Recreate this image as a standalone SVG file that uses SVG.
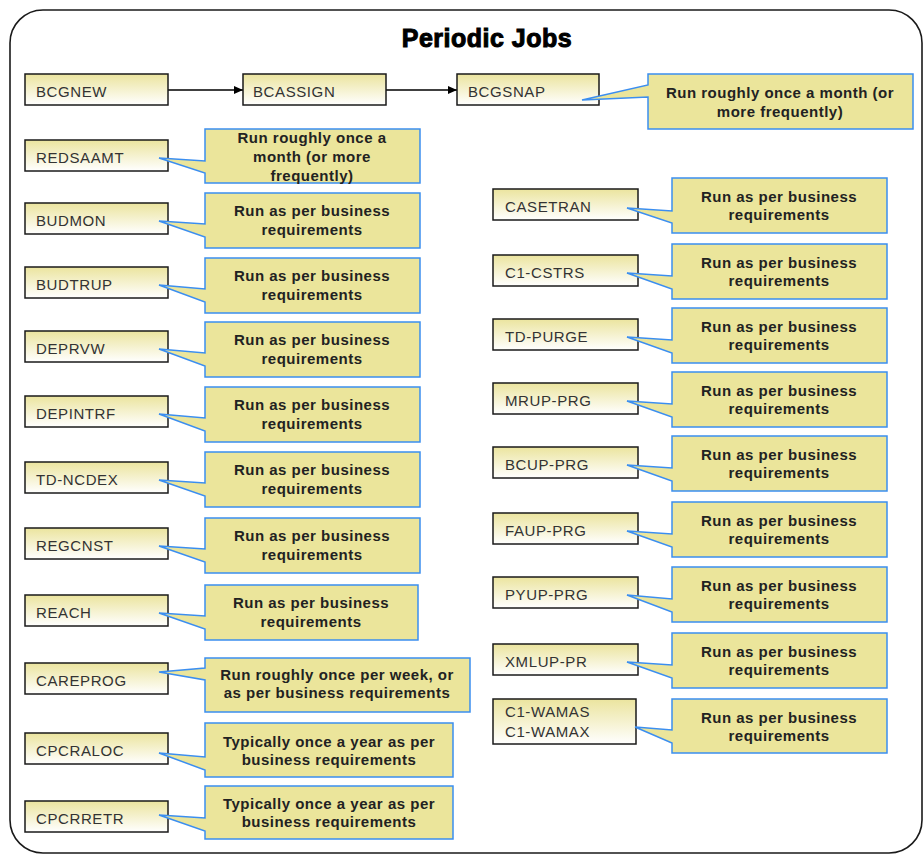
<svg xmlns="http://www.w3.org/2000/svg" width="924" height="855" viewBox="0 0 924 855">
<style>
.frame{fill:#fff;stroke:#1a1a1a;stroke-width:1.6}
.title{font-family:"Liberation Sans",Arial,sans-serif;font-size:25px;font-weight:bold;fill:#000;stroke:#000;stroke-width:1;text-anchor:middle;letter-spacing:0.5px}
.box{fill:url(#bg);stroke:#1a1a1a;stroke-width:1.5}
.lbl{font-family:"Liberation Sans",Arial,sans-serif;font-size:15px;fill:#333;letter-spacing:0.6px}
.co{fill:#ebe59b;stroke:#3b8ef0;stroke-width:1.5;stroke-linejoin:miter}
.ct{font-family:"Liberation Sans",Arial,sans-serif;font-size:15px;font-weight:bold;fill:#222;text-anchor:middle;letter-spacing:0.5px}
.conn{stroke:#000;stroke-width:1.5;fill:none;marker-end:url(#arr)}
</style>
<defs>
<linearGradient id="bg" x1="0" y1="0" x2="0" y2="1">
<stop offset="0" stop-color="#ebe49e"/>
<stop offset="1" stop-color="#ffffff"/>
</linearGradient>
<marker id="arr" markerWidth="9" markerHeight="8" refX="9" refY="4" orient="auto" markerUnits="userSpaceOnUse">
<path d="M0,0 L9,4 L0,8 Z" fill="#000"/>
</marker>
</defs>
<rect class="frame" x="10" y="10" width="912" height="843" rx="33" ry="33"/>
<text class="title" x="487" y="47">Periodic Jobs</text>

<g id="connectors">
<line class="conn" x1="168" y1="90" x2="243" y2="90"/>
<line class="conn" x1="386" y1="90" x2="457" y2="90"/>
</g>

<g id="BCGNEW"><rect class="box" x="25" y="74" width="143" height="31"/><text class="lbl" x="36" y="97">BCGNEW</text></g>
<g id="BCASSIGN"><rect class="box" x="243" y="74" width="143" height="31"/><text class="lbl" x="253" y="97">BCASSIGN</text></g>
<g id="BCGSNAP"><rect class="box" x="457" y="74" width="142" height="31"/><text class="lbl" x="468" y="97">BCGSNAP</text></g>
<g id="note-BCGSNAP"><path class="co" d="M648,74 H913 V129 H648 V97 L582,100 L648,85 Z"/><text class="ct" x="780" y="98">Run roughly once a month (or</text><text class="ct" x="780" y="117">more frequently)</text></g>

<g id="REDSAAMT"><rect class="box" x="25" y="140" width="143" height="31"/><text class="lbl" x="36" y="163">REDSAAMT</text></g>
<g id="note-REDSAAMT"><path class="co" d="M205,129 H420 V183 H205 V173 L159,158 L205,161 Z"/><text class="ct" x="312" y="143">Run roughly once a</text><text class="ct" x="312" y="162">month (or more</text><text class="ct" x="312" y="181">frequently)</text></g>

<g id="BUDMON"><rect class="box" x="25" y="203" width="143" height="31"/><text class="lbl" x="36" y="226">BUDMON</text></g>
<g id="note-BUDMON"><path class="co" d="M205,193 H420 V248 H205 V237 L159,221 L205,224 Z"/><text class="ct" x="312" y="216">Run as per business</text><text class="ct" x="312" y="235">requirements</text></g>

<g id="BUDTRUP"><rect class="box" x="25" y="267" width="143" height="31"/><text class="lbl" x="36" y="290">BUDTRUP</text></g>
<g id="note-BUDTRUP"><path class="co" d="M205,258 H420 V313 H205 V302 L159,285 L205,289 Z"/><text class="ct" x="312" y="281">Run as per business</text><text class="ct" x="312" y="300">requirements</text></g>

<g id="DEPRVW"><rect class="box" x="25" y="331" width="143" height="31"/><text class="lbl" x="36" y="354">DEPRVW</text></g>
<g id="note-DEPRVW"><path class="co" d="M205,322 H420 V377 H205 V366 L159,349 L205,353 Z"/><text class="ct" x="312" y="345">Run as per business</text><text class="ct" x="312" y="364">requirements</text></g>

<g id="DEPINTRF"><rect class="box" x="25" y="396" width="143" height="31"/><text class="lbl" x="36" y="419">DEPINTRF</text></g>
<g id="note-DEPINTRF"><path class="co" d="M205,387 H420 V442 H205 V431 L159,414 L205,418 Z"/><text class="ct" x="312" y="410">Run as per business</text><text class="ct" x="312" y="429">requirements</text></g>

<g id="TD-NCDEX"><rect class="box" x="25" y="462" width="143" height="31"/><text class="lbl" x="36" y="485">TD-NCDEX</text></g>
<g id="note-TD-NCDEX"><path class="co" d="M205,452 H420 V507 H205 V496 L159,480 L205,483 Z"/><text class="ct" x="312" y="475">Run as per business</text><text class="ct" x="312" y="494">requirements</text></g>

<g id="REGCNST"><rect class="box" x="25" y="528" width="143" height="31"/><text class="lbl" x="36" y="551">REGCNST</text></g>
<g id="note-REGCNST"><path class="co" d="M205,518 H420 V573 H205 V562 L159,546 L205,549 Z"/><text class="ct" x="312" y="541">Run as per business</text><text class="ct" x="312" y="560">requirements</text></g>

<g id="REACH"><rect class="box" x="25" y="595" width="143" height="31"/><text class="lbl" x="36" y="618">REACH</text></g>
<g id="note-REACH"><path class="co" d="M205,585 H418 V640 H205 V629 L159,613 L205,616 Z"/><text class="ct" x="311" y="608">Run as per business</text><text class="ct" x="311" y="627">requirements</text></g>

<g id="CAREPROG"><rect class="box" x="25" y="663" width="143" height="31"/><text class="lbl" x="36" y="686">CAREPROG</text></g>
<g id="note-CAREPROG"><path class="co" d="M205,658 H470 V712 H205 V680 L159,672 L205,668 Z"/><text class="ct" x="337" y="680">Run roughly once per week, or</text><text class="ct" x="337" y="698">as per business requirements</text></g>

<g id="CPCRALOC"><rect class="box" x="25" y="733" width="143" height="31"/><text class="lbl" x="36" y="756">CPCRALOC</text></g>
<g id="note-CPCRALOC"><path class="co" d="M205,723 H453 V777 H205 V770 L159,753 L205,757 Z"/><text class="ct" x="329" y="747">Typically once a year as per</text><text class="ct" x="329" y="765">business requirements</text></g>

<g id="CPCRRETR"><rect class="box" x="25" y="801" width="143" height="31"/><text class="lbl" x="36" y="824">CPCRRETR</text></g>
<g id="note-CPCRRETR"><path class="co" d="M205,786 H453 V839 H205 V831 L159,815 L205,818 Z"/><text class="ct" x="329" y="809">Typically once a year as per</text><text class="ct" x="329" y="827">business requirements</text></g>

<g id="CASETRAN"><rect class="box" x="493" y="189" width="145" height="31"/><text class="lbl" x="505" y="212">CASETRAN</text></g>
<g id="note-CASETRAN"><path class="co" d="M672,178 H887 V233 H672 V223 L627,208 L672,211 Z"/><text class="ct" x="779" y="202">Run as per business</text><text class="ct" x="779" y="220">requirements</text></g>

<g id="C1-CSTRS"><rect class="box" x="493" y="255" width="145" height="31"/><text class="lbl" x="505" y="278">C1-CSTRS</text></g>
<g id="note-C1-CSTRS"><path class="co" d="M672,244 H887 V299 H672 V289 L627,273 L672,276 Z"/><text class="ct" x="779" y="268">Run as per business</text><text class="ct" x="779" y="286">requirements</text></g>

<g id="TD-PURGE"><rect class="box" x="493" y="319" width="145" height="31"/><text class="lbl" x="505" y="342">TD-PURGE</text></g>
<g id="note-TD-PURGE"><path class="co" d="M672,308 H887 V363 H672 V353 L627,337 L672,340 Z"/><text class="ct" x="779" y="332">Run as per business</text><text class="ct" x="779" y="350">requirements</text></g>

<g id="MRUP-PRG"><rect class="box" x="493" y="383" width="145" height="31"/><text class="lbl" x="505" y="406">MRUP-PRG</text></g>
<g id="note-MRUP-PRG"><path class="co" d="M672,372 H887 V427 H672 V417 L627,401 L672,404 Z"/><text class="ct" x="779" y="396">Run as per business</text><text class="ct" x="779" y="414">requirements</text></g>

<g id="BCUP-PRG"><rect class="box" x="493" y="447" width="145" height="31"/><text class="lbl" x="505" y="470">BCUP-PRG</text></g>
<g id="note-BCUP-PRG"><path class="co" d="M672,436 H887 V491 H672 V481 L627,465 L672,468 Z"/><text class="ct" x="779" y="460">Run as per business</text><text class="ct" x="779" y="478">requirements</text></g>

<g id="FAUP-PRG"><rect class="box" x="493" y="513" width="145" height="31"/><text class="lbl" x="505" y="536">FAUP-PRG</text></g>
<g id="note-FAUP-PRG"><path class="co" d="M672,502 H887 V557 H672 V547 L627,531 L672,534 Z"/><text class="ct" x="779" y="526">Run as per business</text><text class="ct" x="779" y="544">requirements</text></g>

<g id="PYUP-PRG"><rect class="box" x="493" y="577" width="145" height="31"/><text class="lbl" x="505" y="600">PYUP-PRG</text></g>
<g id="note-PYUP-PRG"><path class="co" d="M672,567 H887 V622 H672 V612 L627,595 L672,599 Z"/><text class="ct" x="779" y="591">Run as per business</text><text class="ct" x="779" y="609">requirements</text></g>

<g id="XMLUP-PR"><rect class="box" x="493" y="644" width="145" height="31"/><text class="lbl" x="505" y="667">XMLUP-PR</text></g>
<g id="note-XMLUP-PR"><path class="co" d="M672,633 H887 V688 H672 V678 L627,662 L672,665 Z"/><text class="ct" x="779" y="657">Run as per business</text><text class="ct" x="779" y="675">requirements</text></g>

<g id="C1-WAMAS"><rect class="box" x="493" y="699" width="143" height="45"/><text class="lbl" x="505" y="717">C1-WAMAS</text><text class="lbl" x="505" y="737">C1-WAMAX</text></g>
<g id="note-C1-WAMAS"><path class="co" d="M672,699 H887 V753 H672 V743 L635,727 L672,730 Z"/><text class="ct" x="779" y="723">Run as per business</text><text class="ct" x="779" y="741">requirements</text></g>
</svg>
